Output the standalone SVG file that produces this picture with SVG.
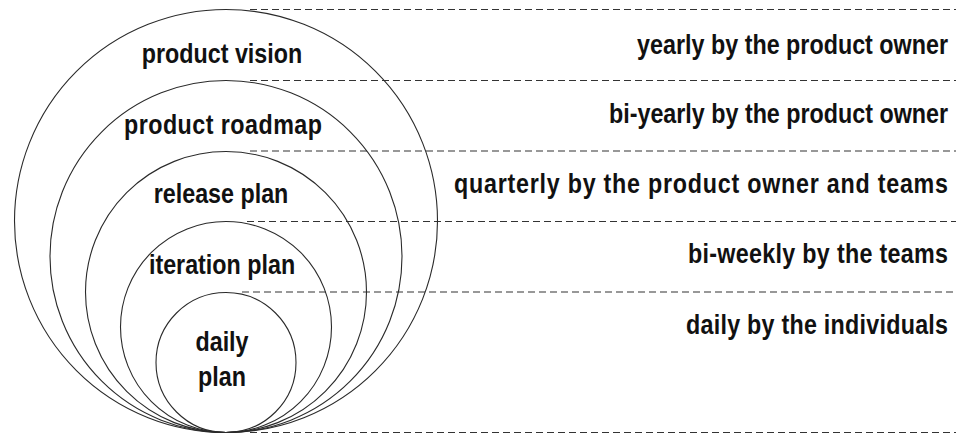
<svg xmlns="http://www.w3.org/2000/svg" width="956" height="434" viewBox="0 0 956 434">
<style>
.c{fill:none;stroke:#2a2a2a;stroke-width:1.1}
.d{stroke:#333;stroke-width:1.2;stroke-dasharray:7 4}
.t{font-family:"Liberation Sans",Arial,sans-serif;font-weight:bold;font-size:23.3px;fill:#111}
.l{text-anchor:middle}
.r{text-anchor:end}
</style>
<rect width="956" height="434" fill="#fff"/>
<g id="connectors">
<line class="d" x1="250" y1="9.5" x2="956" y2="9.5"/>
<line class="d" x1="250" y1="80.5" x2="956" y2="80.5"/>
<line class="d" x1="250" y1="151" x2="956" y2="151"/>
<line class="d" x1="247" y1="221.5" x2="956" y2="221.5"/>
<line class="d" x1="242" y1="292" x2="956" y2="292"/>
<line class="d" x1="250" y1="432.5" x2="956" y2="432.5"/>
</g>
<g id="vision"><circle class="c" cx="226" cy="221" r="211.5"/><text class="t l" transform="translate(222,63) scale(1,1.15)">product vision</text></g>
<g id="roadmap"><circle class="c" cx="226" cy="256.5" r="176"/><text class="t l" transform="translate(223,134) scale(1,1.15)" textLength="198" lengthAdjust="spacing">product roadmap</text></g>
<g id="release"><circle class="c" cx="226" cy="292" r="140.5"/><text class="t l" transform="translate(221,203) scale(1,1.15)">release plan</text></g>
<g id="iteration"><circle class="c" cx="226" cy="327" r="105.5"/><text class="t l" transform="translate(222,274) scale(1,1.15)">iteration plan</text></g>
<g id="daily"><circle class="c" cx="226" cy="362.5" r="70"/><text class="t l" transform="translate(222,351) scale(1,1.15)">daily</text><text class="t l" transform="translate(222,386) scale(1,1.15)">plan</text></g>
<g id="freq">
<text class="t r" transform="translate(948,54) scale(1,1.15)" textLength="311" lengthAdjust="spacing">yearly by the product owner</text>
<text class="t r" transform="translate(948,123) scale(1,1.15)" textLength="339" lengthAdjust="spacing">bi-yearly by the product owner</text>
<text class="t r" transform="translate(948,193) scale(1,1.15)" textLength="494" lengthAdjust="spacing">quarterly by the product owner and teams</text>
<text class="t r" transform="translate(948,263) scale(1,1.15)" textLength="260" lengthAdjust="spacing">bi-weekly by the teams</text>
<text class="t r" transform="translate(948,334) scale(1,1.15)" textLength="262" lengthAdjust="spacing">daily by the individuals</text>
</g>
</svg>
